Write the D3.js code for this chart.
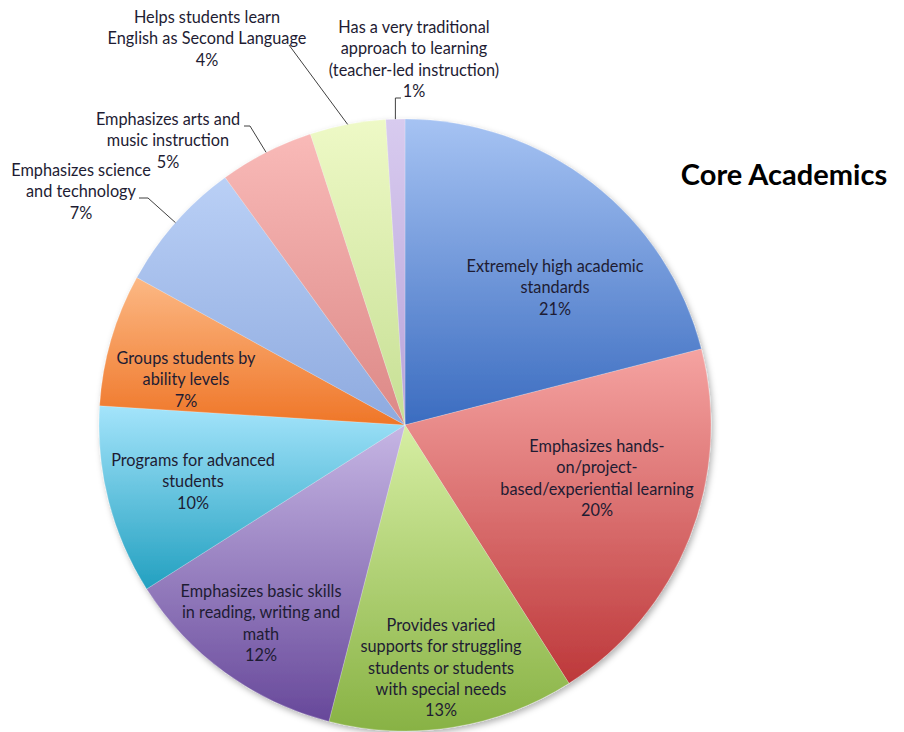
<!DOCTYPE html>
<html>
<head>
<meta charset="utf-8">
<script src="https://cdn.jsdelivr.net/npm/d3@7/dist/d3.min.js"></script>
<style>
  html, body { margin: 0; padding: 0; background: #ffffff; }
  svg { display: block; }
  text { font-family: Lato, "Open Sans", sans-serif; }
</style>
</head>
<body>
<svg id="chart" width="904" height="732"></svg>
<script>
// Survey categories, clockwise from 12 o'clock
const categories = [
  "Extremely high academic standards",
  "Emphasizes hands-on/project-based/experiential learning",
  "Provides varied supports for struggling students or students with special needs",
  "Emphasizes basic skills in reading, writing and math",
  "Programs for advanced students",
  "Groups students by ability levels",
  "Emphasizes science and technology",
  "Emphasizes arts and music instruction",
  "Helps students learn English as Second Language",
  "Has a very traditional approach to learning (teacher-led instruction)"
];

// Share of responses, percent
const values = [21, 20, 13, 12, 10, 7, 7, 5, 4, 1];

// Label text as wrapped lines
const labelLines = [
  ["Extremely high academic", "standards"],
  ["Emphasizes hands-", "on/project-", "based/experiential learning"],
  ["Provides varied", "supports for struggling", "students or students", "with special needs"],
  ["Emphasizes basic skills", "in reading, writing and", "math"],
  ["Programs for advanced", "students"],
  ["Groups students by", "ability levels"],
  ["Emphasizes science", "and technology"],
  ["Emphasizes arts and", "music instruction"],
  ["Helps students learn", "English as Second Language"],
  ["Has a very traditional", "approach to learning", "(teacher-led instruction)"]
];

const title = "Core Academics";

// Gradient stops (top, bottom) per slice
const palette = [
  ["#a6c3f3", "#3b6cc0"],
  ["#f5a3a1", "#bd383a"],
  ["#d6eea3", "#88b244"],
  ["#c6b6e4", "#67489a"],
  ["#a4e4fb", "#22a0c0"],
  ["#fcb884", "#ef7628"],
  ["#bad0f6", "#8eaadf"],
  ["#f9bab8", "#dc8886"],
  ["#eef9c6", "#c6df94"],
  ["#d8cbef", "#b8a3d9"]
];

// Layout
const W = 904, H = 732;
const cx = 405, cy = 425, R = 306;
const lineH = 21.3;
const fontSize = 16.3;

// Where each label block sits (x centre, first-line baseline) and leader geometry
const labelLayout = [
  { x: 555, y: 272 },
  { x: 597, y: 452 },
  { x: 441, y: 631 },
  { x: 261, y: 597 },
  { x: 193, y: 466 },
  { x: 186, y: 364 },
  { x: 81,  y: 176, leader: { start: [139, 198], elbow: [148, 198] } },
  { x: 168, y: 125, leader: { start: [244, 126], elbow: [250, 126] } },
  { x: 207, y: 23,  leader: { start: [289, 45] } },
  { x: 414, y: 33,  leader: { start: [401, 98], elbowVertical: true } }
];

const svg = d3.select("#chart");
const defs = svg.append("defs");

// Soft shadow under the pie
const shadow = defs.append("filter")
  .attr("id", "pieShadow")
  .attr("x", "-10%").attr("y", "-10%")
  .attr("width", "120%").attr("height", "120%");
shadow.append("feDropShadow")
  .attr("dx", 2).attr("dy", 3)
  .attr("stdDeviation", 3)
  .attr("flood-color", "#000")
  .attr("flood-opacity", 0.3);

palette.forEach((c, i) => {
  const g = defs.append("linearGradient")
    .attr("id", "grad" + i)
    .attr("x1", 0).attr("y1", 0).attr("x2", 0).attr("y2", 1);
  g.append("stop").attr("offset", "0%").attr("stop-color", c[0]);
  g.append("stop").attr("offset", "100%").attr("stop-color", c[1]);
});

const data = categories.map((c, i) => ({ category: c, value: values[i], i }));

const pie = d3.pie().sort(null).value(d => d.value);
const arcs = pie(data);
const arc = d3.arc().innerRadius(0).outerRadius(R);
const edgeArc = d3.arc().innerRadius(R).outerRadius(R);

const gPie = svg.append("g")
  .attr("transform", `translate(${cx},${cy})`)
  .attr("filter", "url(#pieShadow)");

gPie.selectAll("path.slice")
  .data(arcs)
  .join("path")
  .attr("class", "slice")
  .attr("d", arc)
  .attr("fill", d => `url(#grad${d.index})`)
  .attr("stroke", "rgba(255,255,255,0.35)")
  .attr("stroke-width", 0.6);

// Leader lines for the small outer slices
const gLeaders = svg.append("g")
  .attr("fill", "none")
  .attr("stroke", "#404040")
  .attr("stroke-width", 1);

arcs.forEach((a, i) => {
  const L = labelLayout[i].leader;
  if (!L) return;
  const c = edgeArc.centroid(a);
  const end = [cx + c[0], cy + c[1]];
  let pts;
  if (L.elbowVertical) {
    pts = [L.start, [end[0], L.start[1]], end];
  } else if (L.elbow) {
    pts = [L.start, L.elbow, end];
  } else {
    pts = [L.start, end];
  }
  gLeaders.append("path").attr("d", d3.line()(pts));
});

// Data labels: wrapped category text plus percentage
const gLabels = svg.append("g")
  .attr("font-size", fontSize)
  .attr("fill", "#1e1c33")
  .attr("text-anchor", "middle");

arcs.forEach((a, i) => {
  const pos = labelLayout[i];
  const lines = labelLines[i].concat([d3.format("d")(a.data.value) + "%"]);
  const t = gLabels.append("text")
    .attr("x", pos.x).attr("y", pos.y);
  lines.forEach((ln, k) => {
    t.append("tspan")
      .attr("x", pos.x)
      .attr("dy", k === 0 ? 0 : lineH)
      .text(ln);
  });
});

// Chart title
svg.append("text")
  .attr("x", 784).attr("y", 185)
  .attr("text-anchor", "middle")
  .attr("font-size", 29)
  .attr("font-weight", "bold")
  .attr("fill", "#000")
  .text(title);
</script>
</body>
</html>
